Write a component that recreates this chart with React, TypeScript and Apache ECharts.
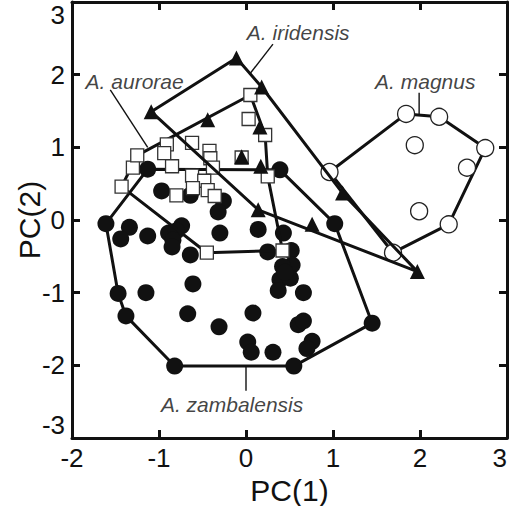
import React, { useEffect, useRef } from "react";
import * as echarts from "echarts";

// A. zambalensis (filled circles)
const zambalensis: number[][] = [
  [-1.13, 0.7], [-0.97, 0.4], [-0.64, 0.34], [-0.26, 0.26], [-0.32, 0.11],
  [-1.61, -0.05], [-1.34, -0.1], [-1.44, -0.26], [-1.13, -0.22], [-0.89, -0.18],
  [-0.74, -0.08], [-0.8, -0.15], [-0.84, -0.28], [-0.85, -0.37], [-0.64, -0.48],
  [-0.3, -0.18], [0.14, -0.13], [0.43, -0.18], [0.25, -0.44], [0.52, -0.42],
  [0.53, -0.62], [0.42, -0.64], [0.39, -0.82], [0.51, -0.8], [0.37, -0.97],
  [0.66, -1.0], [0.45, -0.72], [-1.47, -1.01], [-1.15, -1.0], [-0.61, -0.88],
  [-1.38, -1.32], [-0.67, -1.29], [0.08, -1.28], [-0.31, -1.47], [0.6, -1.44],
  [0.66, -1.39], [0.02, -1.68], [0.06, -1.82], [0.31, -1.82], [0.76, -1.67],
  [0.7, -1.77], [-0.82, -2.01], [0.55, -2.01], [1.02, -0.05], [0.39, 0.69],
  [1.45, -1.42],
];
const zambalensisHull: number[][] = [
  [-1.13, 0.7], [0.39, 0.69], [1.02, -0.05], [1.45, -1.42], [0.55, -2.01],
  [-0.82, -2.01], [-1.38, -1.32], [-1.47, -1.01], [-1.61, -0.05], [-1.13, 0.7],
];

// A. aurorae (open squares)
const aurorae: number[][] = [
  [-1.43, 0.46], [-1.3, 0.72], [-1.25, 0.89], [-0.91, 1.04], [-0.94, 0.92],
  [-0.85, 0.74], [-0.62, 1.06], [-0.42, 0.95], [-0.41, 0.85], [-0.38, 0.72],
  [-0.62, 0.61], [-0.48, 0.54], [-0.8, 0.34], [-0.61, 0.44], [-0.44, 0.41],
  [-0.36, 0.33], [0.05, 1.72], [0.03, 1.39], [0.22, 1.17], [-0.05, 0.86],
  [0.25, 0.6], [-0.45, -0.45], [0.42, -0.42],
];
const auroraeHull: number[][] = [
  [-1.25, 0.89], [0.05, 1.72], [0.22, 1.17], [0.25, 0.6], [0.42, -0.42],
  [-0.45, -0.45], [-1.43, 0.46], [-1.25, 0.89],
];

// A. iridensis (filled triangles)
const iridensis: number[][] = [
  [-0.11, 2.23], [0.18, 1.83], [-1.09, 1.49], [-0.44, 1.38], [0.16, 1.28],
  [-0.05, 0.87], [0.17, 0.74], [0.14, 0.14], [0.76, -0.06], [1.11, 0.37],
  [1.97, -0.71],
];
const iridensisHull: number[][] = [
  [-0.11, 2.23], [0.18, 1.83], [1.11, 0.37], [1.97, -0.71], [0.14, 0.14],
  [-1.09, 1.49], [-0.11, 2.23],
];

// A. magnus (open circles)
const magnus: number[][] = [
  [1.84, 1.46], [2.22, 1.42], [2.75, 0.99], [2.54, 0.72], [1.94, 1.03],
  [1.99, 0.12], [2.33, -0.06], [1.69, -0.45], [0.96, 0.66],
];
const magnusHull: number[][] = [
  [0.96, 0.66], [1.84, 1.46], [2.22, 1.42], [2.75, 0.99], [2.33, -0.06],
  [1.69, -0.45], [0.96, 0.66],
];

// Labels and leader lines (data coordinates)
const labelNames: string[] = ["A. iridensis", "A. aurorae", "A. magnus", "A. zambalensis"];
const labelAnchors: number[][] = [[0.6, 2.58], [-1.28, 1.91], [2.06, 1.9], [-0.16, -2.54]];
const leaders: number[][][] = [
  [[0.31, 2.42], [0.05, 2.02]],
  [[-1.56, 1.79], [-1.13, 1.0]],
  [[1.99, 1.75], [1.99, 1.44]],
  [[0, -2.01], [0, -2.35]],
];

const xTicks = { min: -2, max: 3, interval: 1 };
const yTicks = { min: -3, max: 3, interval: 1 };
const xAxisTitle = "PC(1)";
const yAxisTitle = "PC(2)";

const FONT = "'Liberation Sans', Arial, Helvetica, sans-serif";
const INK = "#111111";

export default function App() {
  const ref = useRef<HTMLDivElement>(null);

  useEffect(() => {
    document.body.style.margin = "0";
    if (!ref.current) return;
    const chart = echarts.init(ref.current, null, { renderer: "svg" });

    const axisLine = { show: true, onZero: false, lineStyle: { color: INK, width: 3 } };
    const axisTick = { show: true, inside: true, length: 8, lineStyle: { color: INK, width: 3 } };

    const hullSeries = (data: number[][], z: number) => ({
      type: "line",
      data,
      symbol: "none",
      z,
      lineStyle: { color: INK, width: 3 },
      silent: true,
    });

    const series: any[] = [
      hullSeries(zambalensisHull, 2),
      {
        type: "scatter",
        data: zambalensis,
        symbol: "circle",
        symbolSize: 17,
        z: 3,
        itemStyle: { color: INK, opacity: 1 },
      },
      hullSeries(auroraeHull, 4),
      {
        type: "scatter",
        data: aurorae,
        symbol: "rect",
        symbolSize: 13,
        z: 5,
        itemStyle: { color: "#ffffff", borderColor: "#333", borderWidth: 1.3, opacity: 1 },
      },
      hullSeries(magnusHull, 6),
      {
        type: "scatter",
        data: magnus,
        symbol: "circle",
        symbolSize: 17,
        z: 7,
        itemStyle: { color: "#ffffff", borderColor: "#222", borderWidth: 1.3, opacity: 1 },
      },
      hullSeries(iridensisHull, 8),
      {
        type: "scatter",
        data: iridensis,
        symbol: "triangle",
        symbolSize: 15,
        z: 9,
        itemStyle: { color: INK, opacity: 1 },
      },
      ...leaders.map((seg) => ({
        type: "line",
        data: seg,
        symbol: "none",
        z: 10,
        lineStyle: { color: INK, width: 1.4 },
        silent: true,
      })),
      {
        type: "scatter",
        data: labelNames.map((n, i) => ({ name: n, value: labelAnchors[i] })),
        symbol: "circle",
        symbolSize: 1,
        z: 11,
        itemStyle: { color: "rgba(0,0,0,0)" },
        label: {
          show: true,
          position: "inside",
          formatter: "{b}",
          fontFamily: FONT,
          fontStyle: "italic",
          fontSize: 21,
          color: "#111",
        },
      },
    ];

    chart.setOption({
      animation: false,
      backgroundColor: "#ffffff",
      grid: {
        left: 72,
        right: 8,
        top: 2,
        bottom: 68,
        containLabel: false,
        outerBoundsMode: "none",
      },
      graphic: [
        {
          type: "text",
          x: 29,
          y: 220,
          rotation: Math.PI / 2,
          style: {
            text: yAxisTitle,
            fontSize: 30,
            fontFamily: FONT,
            fill: "#111",
            align: "center",
            verticalAlign: "middle",
          },
        },
      ],
      xAxis: [
        {
          type: "value",
          ...xTicks,
          position: "bottom",
          axisLine,
          axisTick,
          splitLine: { show: false },
          axisLabel: {
            fontSize: 26,
            color: "#111",
            fontFamily: FONT,
            margin: 7,
            alignMaxLabel: "right",
          },
          name: xAxisTitle,
          nameLocation: "middle",
          nameGap: 36,
          nameTextStyle: { fontSize: 30, lineHeight: 30, color: "#111", fontFamily: FONT },
        },
        {
          type: "value",
          ...xTicks,
          position: "top",
          axisLine,
          axisTick,
          splitLine: { show: false },
          axisLabel: { show: false },
        },
      ],
      yAxis: [
        {
          type: "value",
          ...yTicks,
          position: "left",
          axisLine,
          axisTick,
          splitLine: { show: false },
          axisLabel: {
            fontSize: 26,
            color: "#111",
            fontFamily: FONT,
            margin: 7,
            verticalAlignMaxLabel: "top",
            verticalAlignMinLabel: "bottom",
          },
        },
        {
          type: "value",
          ...yTicks,
          position: "right",
          axisLine,
          axisTick,
          splitLine: { show: false },
          axisLabel: { show: false },
        },
      ],
      series,
    });

    return () => chart.dispose();
  }, []);

  return <div ref={ref} style={{ width: 515, height: 506 }} />;
}
